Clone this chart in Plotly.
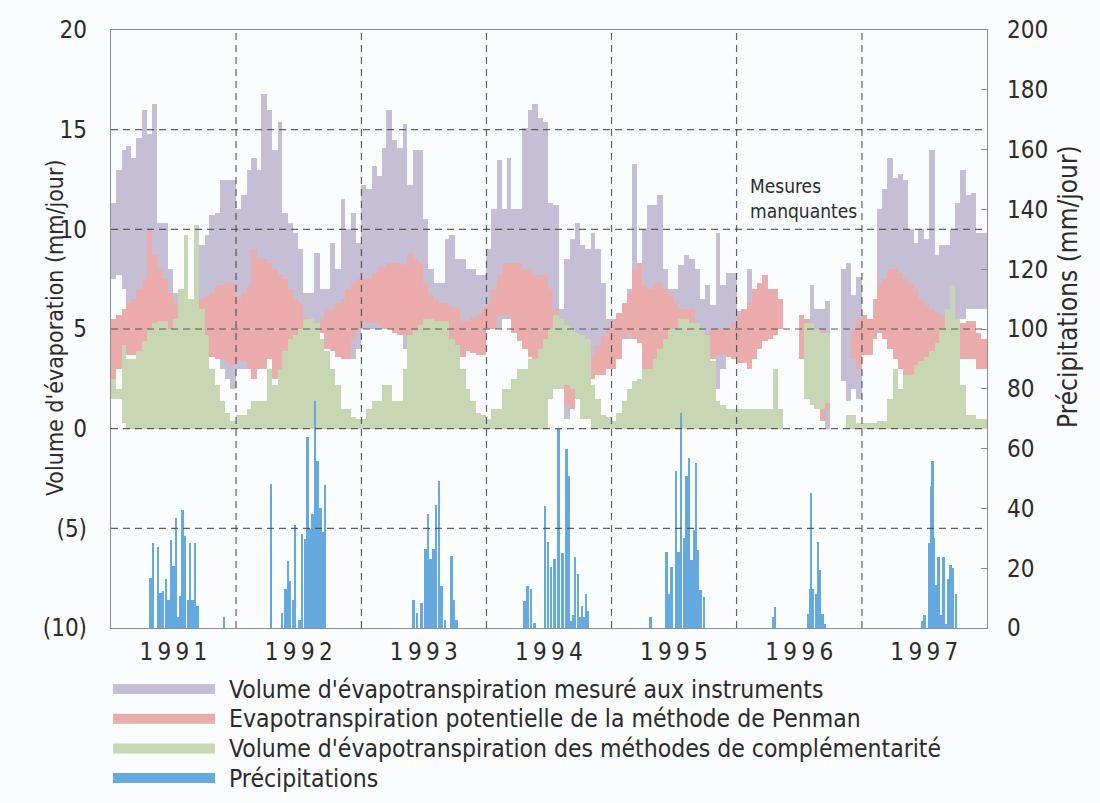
import numpy as np
import pandas as pd
import plotly.graph_objects as go

N = None

# ---- Évapotranspiration : bornes haute / basse par demi-mois (mm/jour), 1991-1997 ----
mesure_haut = [
    11.3, 13.0, 14.0, 14.2, 13.6, 14.6, 16.0, 14.8, 16.3, 10.3, 10.3, 8.0, 6.8, 6.0, 6.0, 6.5, 7.5, 9.2, 9.7, 10.7, 10.8, 12.5, 12.5, 12.5,
    11.0, 11.7, 13.0, 13.6, 13.0, 16.8, 16.0, 14.0, 15.4, 10.8, 10.3, 9.8, 9.0, 6.8, 6.8, 8.8, 7.0, 7.0, 9.3, 8.0, 11.5, 10.0, 10.8, 9.3,
    12.2, 12.0, 13.2, 12.7, 14.1, 16.0, 14.5, 14.1, 15.3, 12.2, 14.0, 14.0, 10.5, 8.0, 7.3, 7.3, 9.5, 9.7, 8.5, 8.5, 8.0, 8.0, 7.7, 7.7,
    9.0, 11.0, 13.5, 11.0, 13.6, 11.0, 11.0, 15.1, 16.0, 16.3, 15.6, 15.4, 11.3, 11.2, 6.0, 8.5, 9.5, 10.3, 9.2, 9.0, 9.8, 9.0, 7.3, 5.5,
    5.0, 5.0, 6.0, 7.0, 13.3, 7.7, 10.0, 11.2, 11.2, 11.7, 8.0, 7.0, 7.0, 8.2, 8.7, 8.5, 8.0, 6.5, 7.2, 6.2, 9.8, 7.2, 7.8, 7.8,
    5.9, 5.5, 8.0, N, N, N, N, N, N, N, N, N, N, N, 7.2, 6.0, 6.0, 6.4, N, N, 8.0, 8.3, 6.7, 7.6,
    N, N, N, 11.0, 12.0, 13.6, 12.6, 12.8, 12.5, 10.0, 9.3, 10.0, 9.5, 14.0, 8.7, 9.2, 9.2, 10.0, 11.3, 13.0, 11.7, 11.8, 9.8, 9.8,
]
mesure_bas = [
    7.5, 7.7, 7.0, 6.0, 6.0, 6.5, 7.0, 5.0, 3.0, 3.5, 3.0, 1.0, 0.8, 1.5, 3.0, 4.0, 4.5, 4.0, 5.0, 5.0, 4.5, 3.0, 2.5, 2.0,
    3.0, 3.0, 3.5, 3.0, 3.0, 4.0, 5.0, 4.0, 2.0, 2.5, 3.0, 4.0, 4.5, 5.0, 5.0, 0.5, 5.0, 5.0, 5.0, 5.0, 4.5, 4.0, 3.5, 4.0,
    5.0, 5.0, 5.0, 5.0, 5.0, 5.0, 5.0, 5.0, 4.0, 4.0, 4.0, 4.0, 2.5, 0.5, 3.0, 0.5, 4.0, 4.5, 4.5, 4.5, 4.5, 4.5, 4.5, 4.5,
    5.0, 5.0, 5.0, 5.5, 5.5, 5.5, 5.0, 5.0, 4.0, 4.0, 4.0, 3.0, 3.0, 3.0, 3.0, 0.5, 3.0, 3.0, 1.0, 0.5, 3.0, 4.0, 4.0, 4.0,
    4.5, 4.5, 4.5, 4.5, 5.0, 5.0, 6.0, 6.0, 6.0, 6.0, 5.0, 5.0, 5.0, 0.7, 3.0, 3.0, 2.0, 1.0, 2.0, 4.0, 2.0, 3.0, 4.0, 4.0,
    4.0, 4.5, 4.5, N, N, N, N, N, N, N, N, N, N, N, 3.0, 3.0, 2.0, 0.0, N, N, 2.4, 1.4, 2.0, 1.5,
    N, N, N, 6.5, 6.0, 5.5, 5.0, 4.0, 3.0, 4.0, 5.4, 5.4, 5.4, 5.0, 5.0, 5.0, 5.0, 5.0, 5.0, 5.5, 6.0, 6.0, 6.0, 6.0,
]
penman_haut = [
    5.5, 5.7, 6.0, 6.3, 6.5, 7.0, 7.5, 10.0, 8.7, 8.0, 7.5, 6.8, 6.3, 5.5, 5.5, 5.8, 6.0, 6.5, 6.7, 6.8, 7.2, 7.2, 7.3, 7.3,
    6.5, 6.8, 7.2, 9.0, 8.5, 8.5, 8.3, 8.0, 7.7, 7.5, 7.0, 6.5, 6.3, 5.6, 5.3, 5.3, 5.5, 6.0, 6.0, 6.3, 6.5, 7.0, 7.3, 7.5,
    7.5, 7.5, 7.8, 8.1, 8.1, 8.3, 8.3, 8.3, 8.2, 8.8, 8.5, 8.3, 7.3, 6.7, 6.5, 6.3, 6.3, 6.1, 6.0, 5.4, 5.4, 5.6, 5.7, 6.0,
    6.3, 7.0, 7.7, 8.3, 8.3, 8.3, 8.3, 8.0, 8.0, 7.7, 7.7, 7.7, 7.0, 6.0, 5.0, 5.0, 4.8, 4.5, 4.2, 4.0, 3.7, 4.2, 4.7, 5.0,
    5.5, 5.8, 6.3, 6.8, 8.0, 8.3, 7.2, 7.0, 7.3, 7.3, 7.0, 6.7, 6.3, 6.0, 6.0, 6.0, 5.0, 4.8, 4.8, 5.0, 5.0, 5.0, 5.0, 5.3,
    5.7, 6.0, 6.3, 7.0, 7.3, 7.7, 7.0, 7.0, 6.5, N, N, N, 5.7, 5.5, 5.0, 5.0, 5.0, 4.5, N, N, N, N, 5.0, 5.5,
    5.7, 5.5, 6.5, 7.3, 7.5, 8.0, 8.0, 7.8, 7.5, 7.3, 7.0, 6.5, 6.2, 6.0, 5.8, 5.7, 5.5, 5.4, 5.4, 5.3, 5.4, 5.4, 4.8, 4.5,
]
penman_bas = [
    2.5, 3.0, 3.5, 3.7, 3.7, 3.5, 3.5, 3.0, 2.8, 3.0, 3.0, 2.0, 1.4, 1.5, 3.0, 3.4, 3.5, 3.5, 3.6, 3.6, 3.5, 3.5, 3.3, 3.2,
    3.4, 3.4, 3.0, 2.5, 3.0, 3.0, 3.5, 2.5, 2.0, 3.0, 3.4, 3.4, 3.4, 4.5, 5.0, 5.0, 4.8, 4.0, 3.9, 3.6, 3.5, 3.5, 4.5, 5.0,
    5.3, 5.3, 5.3, 5.2, 5.0, 5.0, 4.8, 4.7, 4.7, 4.5, 3.6, 3.4, 3.0, 3.0, 2.5, 2.2, 2.0, 2.0, 2.2, 3.6, 3.9, 3.8, 3.7, 3.7,
    5.0, 5.0, 5.7, 5.7, 5.7, 4.8, 4.4, 4.0, 3.6, 3.4, 3.4, 3.3, 3.0, 2.0, 2.0, 1.2, 1.0, 1.5, 1.5, 2.0, 2.5, 2.7, 2.7, 3.0,
    3.0, 3.5, 4.5, 4.8, 4.5, 4.3, 3.0, 3.0, 3.0, 3.0, 3.0, 3.0, 2.5, 2.0, 1.5, 1.5, 1.5, 1.3, 1.5, 3.5, 3.7, 3.7, 3.6, 3.5,
    3.3, 3.3, 3.0, 3.5, 4.0, 4.4, 4.5, 4.7, 5.0, N, N, N, 3.5, 2.5, 2.0, 1.0, 0.4, 1.0, N, N, N, N, 3.5, 3.0,
    3.7, 3.7, 4.5, 4.8, 4.5, 4.0, 3.5, 3.0, 2.5, 2.2, 2.0, 1.8, 1.6, 1.5, 2.0, 2.5, 3.0, 3.0, 3.3, 3.5, 3.5, 3.5, 3.0, 3.0,
]
complementaire_haut = [
    2.5, 2.0, 4.2, 3.5, 3.5, 3.9, 4.4, 5.0, 5.3, 5.4, 5.4, 5.0, 5.5, 7.0, 9.7, 6.5, 10.2, 6.0, 4.7, 3.0, 2.2, 1.4, 0.8, 0.4,
    0.7, 0.7, 1.0, 1.4, 1.4, 1.4, 3.0, 2.2, 3.0, 3.9, 4.5, 4.7, 5.0, 5.5, 5.5, 5.3, 4.5, 3.9, 3.0, 2.2, 1.0, 1.0, 0.6, 0.5,
    0.5, 1.0, 1.4, 1.4, 2.2, 2.2, 1.4, 1.4, 3.0, 4.7, 5.0, 5.2, 5.5, 5.5, 5.4, 5.4, 5.4, 4.5, 4.2, 3.0, 2.0, 1.4, 0.8, 0.7,
    0.5, 1.0, 1.0, 2.0, 2.0, 2.5, 3.0, 3.0, 3.5, 3.5, 4.0, 4.5, 5.0, 5.7, 5.5, 5.2, 5.0, 4.8, 4.7, 4.5, 2.2, 1.5, 0.7, 0.6,
    0.4, 0.8, 1.4, 2.0, 2.4, 2.5, 3.0, 3.0, 3.5, 4.0, 4.5, 5.0, 5.0, 5.5, 5.5, 5.3, 5.3, 5.0, 4.7, 3.4, 1.4, 1.2, 1.0, 1.0,
    1.0, 1.0, 1.0, 1.0, 1.0, 1.0, 1.0, 3.0, 1.0, N, N, N, N, 5.3, 5.3, 5.0, 4.8, 4.8, N, N, N, 0.7, 0.7, 0.3,
    0.3, 0.3, 0.3, 0.4, 0.4, 1.5, 3.0, 2.0, 2.7, 2.7, 3.2, 3.4, 3.6, 3.9, 4.3, 5.0, 6.0, 7.2, 5.5, 2.2, 0.7, 0.7, 0.5, 0.5,
]
complementaire_bas = [
    1.5, 1.5, 0.3, 0, 0, 0, 0, 0, 0, 0, 0, 0, 0, 0, 0, 0, 0, 0, 0, 0, 0, 0, 0, 0,
    0, 0, 0, 0, 0, 0, 0, 0, 0, 0, 0, 0, 0, 0, 0, 0, 0, 0, 0, 0, 0, 0, 0, 0,
    0, 0, 0, 0, 0, 0, 0, 0, 0, 0, 0, 0, 0, 0, 0, 0, 0, 0, 0, 0, 0, 0, 0, 0,
    0, 0, 0, 0, 0, 0, 0, 0, 0, 0, 0, 0, 1.5, 2.0, 2.0, 2.2, 2.0, 1.5, 0.5, 0.5, 0, 0, 0, 0,
    0, 0, 0, 0, 0, 0, 0, 0, 0, 0, 0, 0, 0, 0, 0, 0, 0, 0, 0, 0, 0, 0, 0, 0,
    0, 0, 0, 0, 0, 0, 0, 0, 0, N, N, N, N, 1.5, 1.2, 1.0, 1.0, 1.3, N, N, N, 0, 0, 0,
    0, 0, 0, 0, 0, 0, 0, 0, 0, 0, 0, 0, 0, 0, 0, 0, 0, 0, 0, 0, 0, 0, 0, 0,
]

# ---- Précipitations (mm/jour, axe de droite) ----
pluie_dates = [
    "1991-04-26", "1991-05-03", "1991-05-19", "1991-05-25", "1991-06-02", "1991-06-11", "1991-06-18",
    "1991-06-25", "1991-07-03", "1991-07-09", "1991-07-15", "1991-07-22", "1991-07-29", "1991-08-05",
    "1991-08-13", "1991-08-20", "1991-08-27", "1991-09-03", "1991-09-11", "1991-11-27",
    "1992-04-12", "1992-05-15", "1992-05-24", "1992-05-31", "1992-06-07", "1992-06-15", "1992-06-21",
    "1992-07-04", "1992-07-12", "1992-07-20", "1992-07-27", "1992-08-04", "1992-08-11", "1992-08-19",
    "1992-08-26", "1992-09-03", "1992-09-11", "1992-09-17",
    "1993-06-02", "1993-06-13", "1993-06-25", "1993-07-07", "1993-07-14", "1993-07-22", "1993-07-30",
    "1993-08-07", "1993-08-15", "1993-08-23", "1993-09-02", "1993-09-21", "1993-09-29", "1993-10-05",
    "1994-04-22", "1994-05-01", "1994-05-11", "1994-05-21", "1994-06-20", "1994-06-29", "1994-07-08",
    "1994-07-19", "1994-07-30", "1994-08-11", "1994-08-22", "1994-08-29", "1994-09-04", "1994-09-10",
    "1994-09-17", "1994-09-25", "1994-10-01", "1994-10-06", "1994-10-12", "1994-10-19", "1994-10-24",
    "1995-04-25", "1995-06-10", "1995-06-18", "1995-06-25", "1995-07-09", "1995-07-16", "1995-07-23",
    "1995-07-31", "1995-08-08", "1995-08-16", "1995-08-23", "1995-08-29", "1995-09-04", "1995-09-11",
    "1995-09-18", "1995-09-28",
    "1996-04-17", "1996-04-23", "1996-07-27", "1996-08-02", "1996-08-06", "1996-08-11", "1996-08-19",
    "1996-08-25", "1996-08-31", "1996-09-08", "1996-09-14",
    "1997-06-25", "1997-07-03", "1997-07-16", "1997-07-21", "1997-07-26", "1997-07-31", "1997-08-06",
    "1997-08-12", "1997-08-20", "1997-08-27", "1997-09-03", "1997-09-09", "1997-09-17", "1997-09-23",
    "1997-10-02",
]
pluie_mm = [
    16.8, 28.4, 27.0, 11.7, 12.3, 16.5, 9.5, 29.6, 20.8, 36.9, 3.8, 10.6, 39.4, 30.9, 9.5, 28.4, 9.5, 28.4, 7.2, 3.8,
    48.0, 5.0, 12.9, 22.4, 15.7, 9.5, 34.3, 2.7, 31.5, 29.8, 64.0, 33.2, 38.2, 76.0, 55.7, 40.0, 32.0, 47.8,
    9.5, 5.0, 8.3, 26.4, 38.2, 23.0, 26.4, 41.0, 49.0, 14.0, 2.7, 24.0, 9.5, 2.7,
    8.9, 14.0, 12.9, 1.6, 40.8, 28.7, 20.5, 23.0, 66.5, 25.0, 60.0, 50.8, 2.5, 4.2, 23.8, 18.2, 3.6, 7.5, 3.6, 11.5, 5.8,
    3.6, 25.5, 11.5, 20.5, 52.5, 25.5, 72.0, 30.0, 50.8, 57.0, 22.7, 32.8, 55.3, 26.0, 12.6, 10.3,
    3.6, 7.0, 4.7, 13.2, 45.2, 13.2, 11.5, 28.9, 19.3, 4.7, 1.5,
    2.5, 4.2, 28.3, 47.4, 55.9, 30.0, 14.3, 23.8, 4.2, 23.8, 1.3, 16.5, 21.0, 20.0, 11.5,
]

annees = ["1\u20099\u20099\u20091", "1\u20099\u20099\u20092", "1\u20099\u20099\u20093", "1\u20099\u20099\u20094",
          "1\u20099\u20099\u20095", "1\u20099\u20099\u20096", "1\u20099\u20099\u20097"]
evap_ticks = [-10, -5, 0, 5, 10, 15, 20]
evap_labels = ["(10)", "(5)", "0", "5", "10", "15", "20"]

series = [
    ("Volume d'évapotranspiration mesuré aux instruments", mesure_haut, mesure_bas, "#c4bfd5"),
    ("Evapotranspiration potentielle de la méthode de Penman", penman_haut, penman_bas, "#e9acaa"),
    ("Volume d'évapotranspiration des méthodes de complémentarité", complementaire_haut, complementaire_bas, "#c7d6b3"),
]
PLUIE_NOM = "Précipitations"
PLUIE_COUL = "#66a9df"

FONT = "DejaVu Sans Condensed, DejaVu Sans, sans-serif"
TXT = "#2b2b2b"
BG = "#fbfcfe"

# semi-monthly periods
debuts = pd.date_range("1991-01-01", "1998-01-01", freq="SMS")
durees = debuts[1:] - debuts[:-1]
centres = debuts[:-1] + durees / 2
largeurs = durees.total_seconds().values * 1000.0

fig = go.Figure()
for nom, haut, bas, coul in series:
    h = np.array(haut, dtype=float)
    b = np.array(bas, dtype=float)
    fig.add_trace(go.Bar(
        x=centres, y=h - b, base=b, width=largeurs, name=nom,
        marker=dict(color=coul, line=dict(width=0)), yaxis="y",
        showlegend=False, hoverinfo="skip",
    ))

fig.add_trace(go.Bar(
    x=pd.to_datetime(pluie_dates), y=pluie_mm, width=7 * 86400000, name=PLUIE_NOM,
    marker=dict(color=PLUIE_COUL, line=dict(width=0)), yaxis="y2",
    showlegend=False, hoverinfo="skip",
))

# plot geometry (pixels) used for paper-coordinate placement
L, R, T, B = 111, 987, 30, 628
W, H = R - L, B - T
px = lambda v: (v - L) / W
py = lambda v: (B - v) / H

shapes = []
grid = dict(color="rgba(70,70,70,0.85)", width=1.2, dash="7px,5px")
for v in [-5, 0, 5, 10, 15]:
    shapes.append(dict(type="line", xref="paper", yref="y", x0=0, x1=1, y0=v, y1=v,
                       line=grid, layer="above"))
for yr in range(1992, 1998):
    shapes.append(dict(type="line", xref="x", yref="paper", x0=f"{yr}-01-01", x1=f"{yr}-01-01",
                       y0=0, y1=1, line=grid, layer="above"))

annotations = []
legende = [(n, c) for n, _, _, c in series] + [(PLUIE_NOM, PLUIE_COUL)]
for k, (nom, coul) in enumerate(legende):
    yc = 689 + k * 29.7
    shapes.append(dict(type="rect", xref="paper", yref="paper",
                       x0=px(113), x1=px(215), y0=py(yc + 5), y1=py(yc - 5),
                       fillcolor=coul, line=dict(width=0)))
    annotations.append(dict(xref="paper", yref="paper", x=px(227), y=py(yc), text=nom,
                            showarrow=False, xanchor="left", yanchor="middle",
                            font=dict(family=FONT, size=24.5, color=TXT)))

annotations.append(dict(xref="paper", yref="paper", x=px(40), y=py(328),
                        text="Volume d'évaporation (mm/jour)", textangle=-90, showarrow=False,
                        font=dict(family=FONT, size=23, color=TXT)))
annotations.append(dict(xref="paper", yref="paper", x=px(1085), y=py(287),
                        text="Précipitations (mm/jour)", textangle=-90, showarrow=False,
                        font=dict(family=FONT, size=26, color=TXT)))
annotations.append(dict(xref="paper", yref="paper", x=px(748), y=py(198),
                        text="Mesures<br>manquantes", showarrow=False, align="left",
                        xanchor="left", yanchor="middle",
                        font=dict(family=FONT, size=19, color=TXT)))

fig.update_layout(
    width=1100, height=803,
    margin=dict(l=L, r=1100 - R, t=T, b=803 - B, pad=0),
    paper_bgcolor=BG, plot_bgcolor=BG,
    barmode="overlay", bargap=0,
    showlegend=False,
    font=dict(family=FONT, color=TXT),
    shapes=shapes, annotations=annotations,
    xaxis=dict(
        type="date", range=["1991-01-01", "1998-01-01"],
        tickvals=[f"{y}-07-02" for y in range(1991, 1998)], ticktext=annees,
        showgrid=False, zeroline=False, ticks="",
        showline=True, linecolor="#8c8c8c", linewidth=1.3, mirror=True,
        tickfont=dict(family=FONT, size=24, color=TXT), ticklabelstandoff=2,
    ),
    yaxis=dict(
        range=[-10, 20], tickvals=evap_ticks, ticktext=evap_labels,
        showgrid=False, zeroline=False, ticks="",
        showline=True, linecolor="#8c8c8c", linewidth=1.3, mirror=True,
        tickfont=dict(family=FONT, size=24, color=TXT), ticklabelstandoff=18,
    ),
    yaxis2=dict(
        range=[0, 200], tick0=0, dtick=20, overlaying="y", side="right",
        showgrid=False, zeroline=False, ticks="inside", ticklen=6, tickcolor="#8c8c8c",
        showline=True, linecolor="#8c8c8c", linewidth=1.3,
        tickfont=dict(family=FONT, size=24, color=TXT), ticklabelstandoff=14,
    ),
)

fig.write_html("out.html")
